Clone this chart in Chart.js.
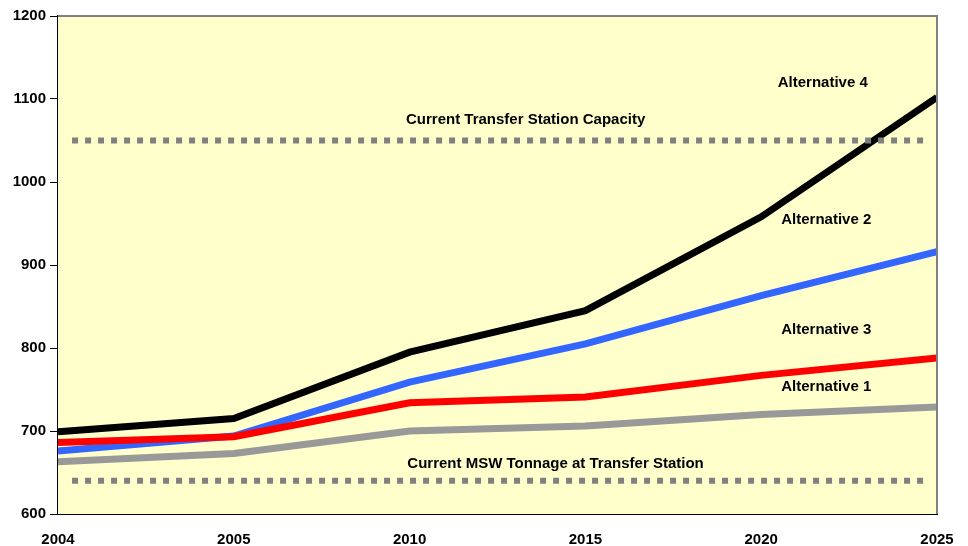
<!DOCTYPE html>
<html>
<head>
<meta charset="utf-8">
<script src="https://cdn.jsdelivr.net/npm/chart.js@4"></script>
<style>
  html, body { margin: 0; padding: 0; background: #fff; }
  #wrap { width: 968px; height: 546px; }
</style>
</head>
<body>
<div id="wrap"><canvas id="tonnageChart" width="968" height="546"></canvas></div>
<script>
// years on the x axis (evenly spaced like the original)
const years = ['2004', '2005', '2010', '2015', '2020', '2025'];

// tonnage per alternative
const alt4 = [699, 715, 795, 845, 958, 1102];
const alt2 = [676, 694, 759, 805, 863, 916];
const alt3 = [686, 693, 734, 741, 767, 788];
const alt1 = [663, 673, 700, 706, 720, 729];

// reference levels
const capacity = 1050;
const currentMsw = 640;
const refSpan = [0.08, 4.93];

// y axis
const yMin = 600;
const yMax = 1200;
const yStep = 100;

// text labels: [text, x index, y value]
const labels = [
  ['Alternative 4', 4.35, 1120],
  ['Current Transfer Station Capacity', 2.66, 1075],
  ['Alternative 2', 4.37, 954],
  ['Alternative 3', 4.37, 822],
  ['Alternative 1', 4.37, 753],
  ['Current MSW Tonnage at Transfer Station', 2.83, 661]
];

function toPoints(values) {
  return values.map((v, i) => ({ x: i, y: v }));
}

function refLine(v) {
  return [{ x: refSpan[0], y: v }, { x: refSpan[1], y: v }];
}

// yellow plot background + grey frame top/right
const plotFrame = {
  id: 'plotFrame',
  beforeDatasetsDraw(chart) {
    const { ctx, chartArea: a } = chart;
    ctx.save();
    ctx.fillStyle = '#ffffcc';
    ctx.fillRect(a.left, a.top, a.right - a.left, a.bottom - a.top);
    ctx.restore();
  },
  afterDraw(chart) {
    const { ctx, chartArea: a } = chart;
    ctx.save();
    ctx.strokeStyle = '#808080';
    ctx.lineWidth = 2;
    ctx.beginPath();
    ctx.moveTo(a.left, a.top);
    ctx.lineTo(a.right, a.top);
    ctx.lineTo(a.right, a.bottom);
    ctx.stroke();
    ctx.restore();
  }
};

// text labels inside the plot
const textLabels = {
  id: 'textLabels',
  afterDatasetsDraw(chart) {
    const { ctx, scales } = chart;
    ctx.save();
    ctx.font = 'bold 15px "Liberation Sans", Arial, sans-serif';
    ctx.fillStyle = '#000';
    ctx.textAlign = 'center';
    ctx.textBaseline = 'middle';
    labels.forEach(([t, x, y]) => {
      ctx.fillText(t, scales.x.getPixelForValue(x), scales.y.getPixelForValue(y));
    });
    ctx.restore();
  }
};

const lineStyle = { borderWidth: 7, pointRadius: 0, fill: false, tension: 0, borderJoinStyle: 'miter', borderCapStyle: 'butt' };
const refStyle = { borderWidth: 6, borderColor: '#808080', borderDash: [6, 7], pointRadius: 0, fill: false, borderCapStyle: 'butt' };

const tickFont = { family: '"Liberation Sans", Arial, sans-serif', size: 15, weight: 'bold' };

// first dataset is drawn on top
new Chart(document.getElementById('tonnageChart'), {
  type: 'line',
  data: {
    datasets: [
      { label: 'Capacity', data: refLine(capacity), ...refStyle },
      { label: 'Current MSW', data: refLine(currentMsw), ...refStyle },
      { label: 'Alternative 4', data: toPoints(alt4), borderColor: '#000000', ...lineStyle },
      { label: 'Alternative 3', data: toPoints(alt3), borderColor: '#ff0000', ...lineStyle },
      { label: 'Alternative 2', data: toPoints(alt2), borderColor: '#3366ff', ...lineStyle },
      { label: 'Alternative 1', data: toPoints(alt1), borderColor: '#999999', ...lineStyle }
    ]
  },
  options: {
    responsive: false,
    animation: false,
    events: [],
    layout: { padding: { top: 16, right: 31, left: 0, bottom: 0 } },
    plugins: {
      legend: { display: false },
      tooltip: { enabled: false }
    },
    scales: {
      x: {
        type: 'linear',
        min: 0,
        max: years.length - 1,
        afterFit: s => { s.height = 32; },
        afterBuildTicks: s => { s.ticks = years.map((y, i) => ({ value: i })); },
        grid: { display: false, drawTicks: true, tickLength: 7, tickColor: '#000' },
        border: { display: true, color: '#000', width: 2 },
        ticks: {
          color: '#000',
          padding: 10,
          maxRotation: 0,
          font: tickFont,
          callback: v => years[v]
        }
      },
      y: {
        min: yMin,
        max: yMax,
        afterFit: s => { s.width = 58; },
        grid: {
          color: ctx => (ctx.tick && ctx.tick.value === yMax ? 'rgba(0,0,0,0)' : '#000'),
          lineWidth: 1,
          drawTicks: true,
          tickLength: 8,
          tickColor: '#000'
        },
        border: { display: true, color: '#000', width: 2 },
        ticks: {
          stepSize: yStep,
          color: '#000',
          padding: 4,
          font: tickFont,
          callback: v => String(v)
        }
      }
    }
  },
  plugins: [plotFrame, textLabels]
});
</script>
</body>
</html>
